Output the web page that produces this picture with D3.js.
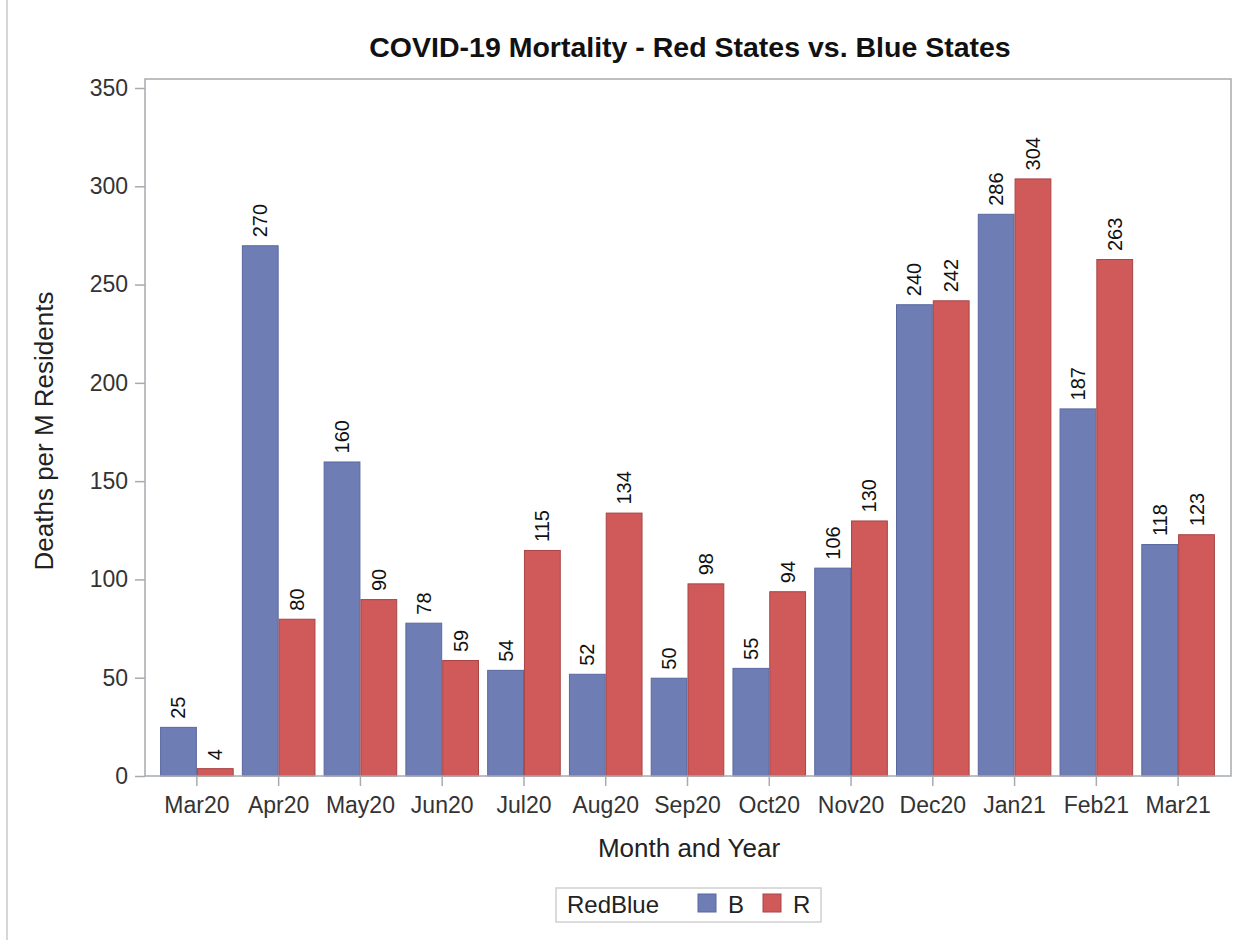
<!DOCTYPE html>
<html>
<head>
<meta charset="utf-8">
<script src="https://cdn.jsdelivr.net/npm/d3@7"></script>
<style>
  html, body { margin: 0; padding: 0; background: #fff; }
  svg { display: block; font-family: "Liberation Sans", Arial, sans-serif; }
</style>
</head>
<body>
<div id="chart"></div>
<script>
const months = ["Mar20", "Apr20", "May20", "Jun20", "Jul20", "Aug20", "Sep20",
                "Oct20", "Nov20", "Dec20", "Jan21", "Feb21", "Mar21"];
const groups = ["B", "R"];
const blueVals = [25, 270, 160, 78, 54, 52, 50, 55, 106, 240, 286, 187, 118];
const redVals = [4, 80, 90, 59, 115, 134, 98, 94, 130, 242, 304, 263, 123];
const yTicks = [0, 50, 100, 150, 200, 250, 300, 350];

const width = 1249, height = 940;
const margin = { left: 145, right: 18, top: 79, bottom: 164 };

const fills = { B: "#6F7DB5", R: "#D05A5A" };
const strokes = { B: "#5A68A0", R: "#A84444" };
const FONT = "'Liberation Sans', Arial, sans-serif";

const rows = months.map((m, i) => ({ month: m, B: blueVals[i], R: redVals[i] }));

const svg = d3.select("#chart").append("svg")
  .attr("width", width)
  .attr("height", height);

// thin border on the left edge
svg.append("line")
  .attr("x1", 7).attr("x2", 7).attr("y1", 0).attr("y2", height)
  .attr("stroke", "#d6d6d6").attr("stroke-width", 2);

const x0 = d3.scaleBand()
  .domain(months)
  .range([margin.left + 11, width - margin.right - 12])
  .paddingInner(0.1)
  .paddingOuter(0.05);

const x1 = d3.scaleBand()
  .domain(groups)
  .range([0, x0.bandwidth()]);

const y = d3.scaleLinear()
  .domain([0, 350])
  .range([height - margin.bottom, 88]);

const plotBottom = height - margin.bottom;
const plotRight = width - margin.right;

// bars
const g = svg.append("g");
const monthG = g.selectAll("g")
  .data(rows)
  .join("g")
  .attr("transform", d => `translate(${x0(d.month)},0)`);

monthG.selectAll("rect")
  .data(d => groups.map(k => ({ key: k, value: d[k] })))
  .join("rect")
  .attr("x", d => x1(d.key) + 0.5)
  .attr("y", d => y(d.value) + 0.5)
  .attr("width", x1.bandwidth() - 1)
  .attr("height", d => Math.max(0, y(0) - y(d.value) - 0.5))
  .attr("fill", d => fills[d.key])
  .attr("stroke", d => strokes[d.key])
  .attr("stroke-width", 1);

// value labels (rotated)
monthG.selectAll("text")
  .data(d => groups.map(k => ({ key: k, value: d[k] })))
  .join("text")
  .attr("transform", d => `translate(${x1(d.key) + x1.bandwidth() / 2 + 7},${y(d.value) - 8}) rotate(-90)`)
  .attr("font-size", 20)
  .attr("fill", "#111")
  .text(d => d.value);

// plot frame
svg.append("rect")
  .attr("x", margin.left).attr("y", margin.top)
  .attr("width", plotRight - margin.left)
  .attr("height", plotBottom - margin.top)
  .attr("fill", "none")
  .attr("stroke", "#a7abaf")
  .attr("stroke-width", 1.5);

// y axis
const yAxis = svg.append("g")
  .attr("transform", `translate(${margin.left},0)`)
  .call(d3.axisLeft(y).tickValues(yTicks).tickSize(10).tickPadding(7));
yAxis.select(".domain").remove();
yAxis.selectAll("line").attr("stroke", "#a7abaf").attr("stroke-width", 1.5);
yAxis.selectAll("text").attr("font-size", 23).attr("fill", "#333")
  .attr("font-family", FONT);

// x axis
const xAxis = svg.append("g")
  .attr("transform", `translate(0,${plotBottom})`)
  .call(d3.axisBottom(x0).tickSize(10).tickPadding(11));
xAxis.select(".domain").remove();
xAxis.selectAll("line").attr("stroke", "#a7abaf").attr("stroke-width", 1.5);
xAxis.selectAll("text").attr("font-size", 23).attr("fill", "#333")
  .attr("font-family", FONT);

// title
svg.append("text")
  .attr("x", 690).attr("y", 57)
  .attr("text-anchor", "middle")
  .attr("font-size", 28.5)
  .attr("font-weight", "bold")
  .attr("fill", "#111")
  .text("COVID-19 Mortality - Red States vs. Blue States");

// axis titles
svg.append("text")
  .attr("x", 689).attr("y", 857)
  .attr("text-anchor", "middle")
  .attr("font-size", 26)
  .attr("fill", "#222")
  .text("Month and Year");

svg.append("text")
  .attr("transform", "translate(53,431) rotate(-90)")
  .attr("text-anchor", "middle")
  .attr("font-size", 26)
  .attr("fill", "#222")
  .text("Deaths per M Residents");

// legend
const legend = svg.append("g").attr("transform", "translate(556,888)");
legend.append("rect")
  .attr("width", 265).attr("height", 34)
  .attr("fill", "#fff").attr("stroke", "#d0d0d0").attr("stroke-width", 1.5);
legend.append("text")
  .attr("x", 11).attr("y", 25)
  .attr("font-size", 24).attr("fill", "#222")
  .text("RedBlue");
const legX = { B: 142, R: 207 };
groups.forEach(k => {
  legend.append("rect")
    .attr("x", legX[k]).attr("y", 6)
    .attr("width", 18).attr("height", 18)
    .attr("fill", fills[k]).attr("stroke", strokes[k]);
  legend.append("text")
    .attr("x", legX[k] + 30).attr("y", 25)
    .attr("font-size", 24).attr("fill", "#222")
    .text(k);
});
</script>
</body>
</html>
